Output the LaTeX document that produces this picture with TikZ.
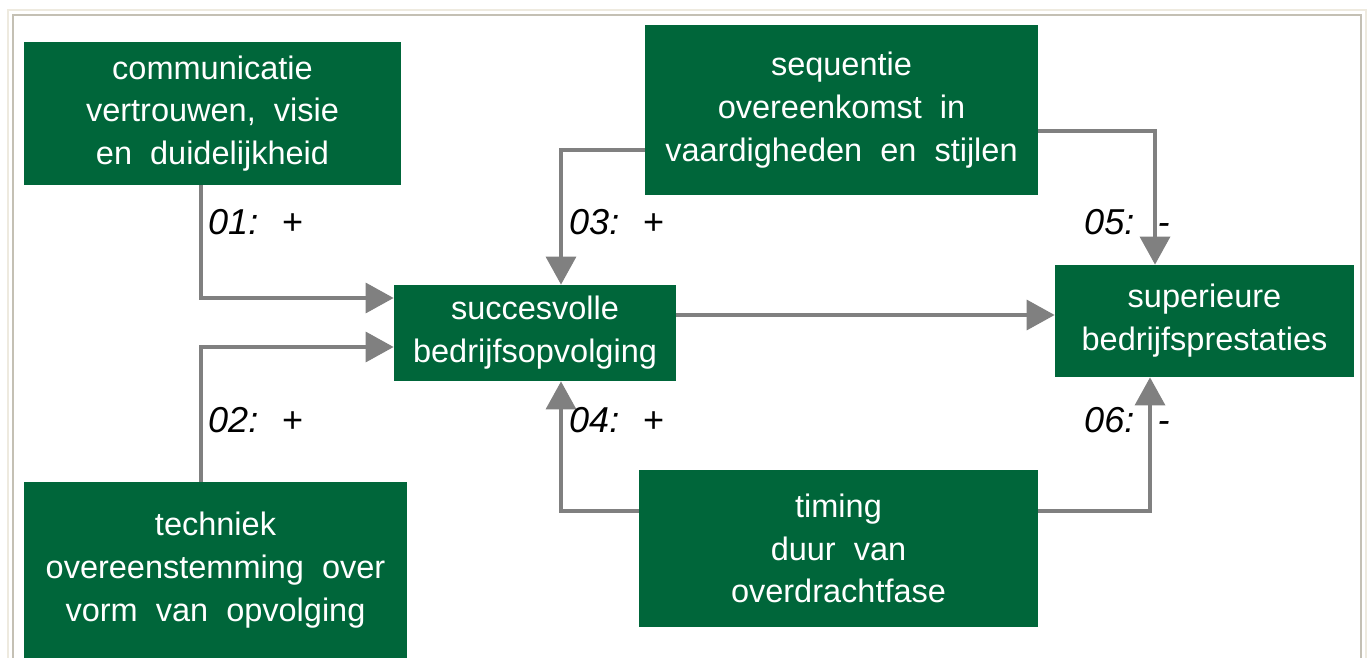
\documentclass[tikz,border=0pt]{standalone}
\usepackage{fontspec}
\setmainfont{Liberation Sans}[WordSpace=2]
\usetikzlibrary{arrows.meta}
\definecolor{BoxGreen}{HTML}{00663A}
\definecolor{LinkGray}{HTML}{808080}
\definecolor{FrameGray}{HTML}{C4C0B4}
\definecolor{FrameBeige}{HTML}{EEEADF}

\begin{document}
\begin{tikzpicture}[x=0.02cm, y=-0.02cm, >={Triangle[length=16pt, width=17pt]},
  box/.style={fill=BoxGreen, text=white, align=center, inner sep=0pt,
    font=\fontsize{18.5}{24.4}\selectfont},
  link/.style={->, line width=2.3pt, LinkGray},
  sign/.style={anchor=base west, font=\fontsize{20.5}{24}\selectfont\itshape}]
  \useasboundingbox (0,0) rectangle (1371,658);

  % Frame
  \draw[FrameBeige, line width=1.2pt] (8,658) -- (8,10) -- (1366,10) -- (1366,658);
  \draw[FrameGray, line width=1.2pt] (13,658) -- (13,15) -- (1361,15) -- (1361,658);

  % Factors
  \node[box, minimum width=7.54cm, minimum height=2.86cm] (comm) at (212.5,113.5)
    {communicatie\\vertrouwen, visie\\en duidelijkheid};
  \node[box, minimum width=7.66cm, minimum height=3.52cm] (tech) at (215.5,570)
    {techniek\\overeenstemming over\\vorm van opvolging};
  \node[box, minimum width=7.86cm, minimum height=3.4cm] (seq) at (841.5,110)
    {sequentie\\overeenkomst in\\vaardigheden en stijlen};
  \node[box, minimum width=7.98cm, minimum height=3.14cm] (timing) at (838.5,548.5)
    {timing\\duur van\\overdrachtfase};

  % Outcomes
  \node[box, minimum width=5.64cm, minimum height=1.92cm] (succ) at (535,333)
    {succesvolle\\bedrijfsopvolging};
  \node[box, minimum width=5.98cm, minimum height=2.24cm] (perf) at (1204.5,321)
    {superieure\\bedrijfsprestaties};

  % Links
  \draw[link] (comm.south -| 201,0) |- (succ.west |- 0,298);
  \draw[link] (tech.north -| 201,0) |- (succ.west |- 0,347);
  \draw[link] (seq.west |- 0,150) -| (succ.north -| 561,0);
  \draw[link] (timing.west |- 0,511) -| (succ.south -| 561,0);
  \draw[link] (succ.east |- 0,315) -- (perf.west |- 0,315);
  \draw[link] (seq.east |- 0,131) -| (perf.north -| 1155,0);
  \draw[link] (timing.east |- 0,511) -| (perf.south -| 1150,0);

  % Signs
  \node[sign] (s01) at (202,235) {01: +};
  \node[sign] (s02) at (202,432) {02: +};
  \node[sign] (s03) at (563,235) {03: +};
  \node[sign] (s04) at (563,432) {04: +};
  \node[sign] (s05) at (1078,235) {05: -};
  \node[sign] (s06) at (1078,432) {06: -};
\end{tikzpicture}
\end{document}
